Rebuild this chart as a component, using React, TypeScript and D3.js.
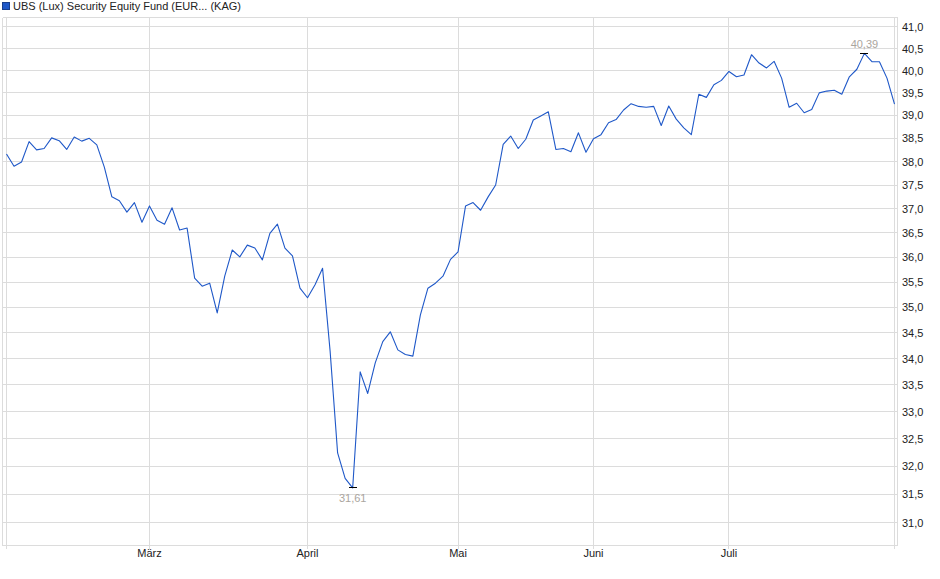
import React from "react";
import * as d3 from "d3";

const seriesName = "UBS (Lux) Security Equity Fund (EUR... (KAG)";

const prices: number[] = [
  38.16, 37.90, 37.99, 38.43, 38.25, 38.28, 38.51, 38.45, 38.26, 38.53,
  38.44, 38.50, 38.36, 37.88, 37.25, 37.17, 36.93, 37.13, 36.72, 37.06,
  36.76, 36.68, 37.02, 36.56, 36.60, 35.58, 35.42, 35.48, 34.89, 35.62,
  36.15, 36.01, 36.25, 36.19, 35.95, 36.49, 36.68, 36.19, 36.03, 35.38,
  35.19, 35.45, 35.78, 34.15, 32.24, 31.78, 31.61, 33.75, 33.34, 33.92,
  34.33, 34.52, 34.17, 34.08, 34.05, 34.85, 35.38, 35.48, 35.62, 35.96,
  36.11, 37.06, 37.13, 36.97, 37.25, 37.50, 38.37, 38.55, 38.28, 38.48,
  38.90, 38.99, 39.08, 38.26, 38.28, 38.21, 38.62, 38.20, 38.49, 38.58,
  38.84, 38.91, 39.12, 39.26, 39.20, 39.18, 39.20, 38.78, 39.21, 38.92,
  38.73, 38.58, 39.47, 39.40, 39.68, 39.78, 39.98, 39.86, 39.90, 40.36,
  40.17, 40.06, 40.21, 39.83, 39.18, 39.27, 39.06, 39.13, 39.50, 39.54,
  39.56, 39.47, 39.86, 40.03, 40.39, 40.20, 40.20, 39.83, 39.25,
];

const monthLabels = ["März", "April", "Mai", "Juni", "Juli"];
const monthIndex = [19, 40, 60, 78, 96];

const yTicks: number[] = d3.range(31, 41.001, 0.5);

const W = 940;
const H = 579;
const frameLeft = 2.5;
const frameRight = 897.5;
const frameTop = 17.5;
const frameBottom = 545.5;

const GRID = "#dcdcdc";
const LINE = "#1f58c8";
const FONT = "'Liberation Sans', Arial, sans-serif";
const ANNO = "#aaa59e";

const fmt = (v: number) => v.toFixed(2).replace(".", ",");
const fmtTick = (v: number) => v.toFixed(1).replace(".", ",");

export default function App() {
  const x = d3.scaleLinear().domain([0, prices.length - 1]).range([6.5, 894.5]);
  const y = d3.scaleLog().domain([31, 41]).range([522.5, 26.8]);

  const line = d3
    .line<number>()
    .x((_, i) => x(i))
    .y((d) => y(d));

  const minI = d3.minIndex(prices);
  const maxI = d3.maxIndex(prices);

  const crisp = (v: number) => Math.round(v - 0.5) + 0.5;

  return (
    <svg
      width={W}
      height={H}
      style={{ position: "absolute", left: 0, top: 0, background: "#fff" }}
      fontFamily={FONT}
    >
      {/* legend */}
      <rect x={2.5} y={2.5} width={7} height={7} fill="#1f58c8" stroke="#1a3f8c" strokeWidth={1} />
      <text x={13} y={10} fontSize={11} fill="#222">
        {seriesName}
      </text>

      {/* horizontal grid */}
      <g shapeRendering="crispEdges">
        {yTicks.map((t) => (
          <line
            key={t}
            x1={frameLeft}
            x2={frameRight}
            y1={crisp(y(t))}
            y2={crisp(y(t))}
            stroke={GRID}
          />
        ))}
        {/* vertical grid at month starts and data ends */}
        {[0, ...monthIndex, prices.length - 1].map((i) => (
          <line
            key={"v" + i}
            x1={crisp(x(i))}
            x2={crisp(x(i))}
            y1={frameTop}
            y2={frameBottom + 3}
            stroke={GRID}
          />
        ))}
        {/* frame */}
        <line x1={frameLeft} x2={frameRight} y1={frameTop} y2={frameTop} stroke={GRID} />
        <line x1={frameLeft} x2={frameRight} y1={frameBottom} y2={frameBottom} stroke={GRID} />
        <line x1={frameLeft} x2={frameLeft} y1={frameTop} y2={frameBottom} stroke={GRID} />
        <line x1={frameRight} x2={frameRight} y1={frameTop} y2={frameBottom} stroke={GRID} />
      </g>

      {/* y tick labels */}
      {yTicks.map((t) => (
        <text
          key={"l" + t}
          x={902}
          y={y(t) + 4}
          fontSize={11}
          fill="#222"
        >
          {fmtTick(t)}
        </text>
      ))}

      {/* x labels */}
      {monthLabels.map((m, k) => (
        <text
          key={m}
          x={x(monthIndex[k])}
          y={557}
          fontSize={11}
          fill="#222"
          textAnchor="middle"
        >
          {m}
        </text>
      ))}

      {/* price line */}
      <path d={line(prices) ?? ""} fill="none" stroke={LINE} strokeWidth={1.1} strokeLinejoin="round" />

      {/* min annotation */}
      <line
        x1={x(minI) - 4}
        x2={x(minI) + 4}
        y1={crisp(y(prices[minI]))}
        y2={crisp(y(prices[minI]))}
        stroke="#000"
        shapeRendering="crispEdges"
      />
      <text x={x(minI)} y={y(prices[minI]) + 14} fontSize={11} fill={ANNO} textAnchor="middle">
        {fmt(prices[minI])}
      </text>

      {/* max annotation */}
      <line
        x1={x(maxI) - 4}
        x2={x(maxI) + 4}
        y1={crisp(y(prices[maxI]))}
        y2={crisp(y(prices[maxI]))}
        stroke="#000"
        shapeRendering="crispEdges"
      />
      <text x={x(maxI)} y={y(prices[maxI]) - 5} fontSize={11} fill={ANNO} textAnchor="middle">
        {fmt(prices[maxI])}
      </text>
    </svg>
  );
}
